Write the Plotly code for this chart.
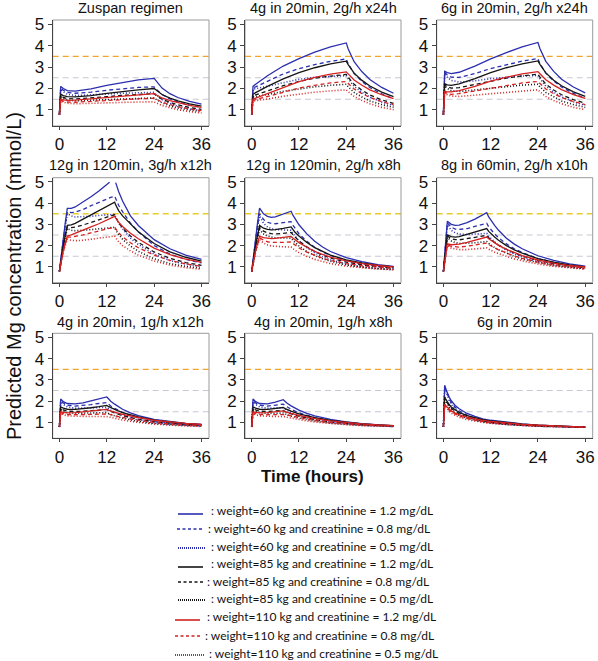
import plotly.graph_objects as go
from plotly.subplots import make_subplots

# ---------------- data ----------------
panel_titles = ["Zuspan regimen", "4g in 20min, 2g/h x24h", "6g in 20min, 2g/h x24h",
                "12g in 120min, 3g/h x12h", "12g in 120min, 2g/h x8h", "8g in 60min, 2g/h x10h",
                "4g in 20min, 1g/h x12h", "4g in 20min, 1g/h x8h", "6g in 20min"]

series_labels = [": weight=60 kg and creatinine = 1.2 mg/dL",
                 ": weight=60 kg and creatinine = 0.8 mg/dL",
                 ": weight=60 kg and creatinine = 0.5 mg/dL",
                 ": weight=85 kg and creatinine = 1.2 mg/dL",
                 ": weight=85 kg and creatinine = 0.8 mg/dL",
                 ": weight=85 kg and creatinine = 0.5 mg/dL",
                 ": weight=110 kg and creatinine = 1.2 mg/dL",
                 ": weight=110 kg and creatinine = 0.8 mg/dL",
                 ": weight=110 kg and creatinine = 0.5 mg/dL"]

x_ticks = [0, 12, 24, 36]
y_ticks = [1, 2, 3, 4, 5]
ref_levels = [1.5, 2.5, 3.5]
y_limit = 5.0  # values above the plotted limit are dropped (gap in the curve)

# order of curves in each panel: 60/1.2, 60/0.8, 60/0.5, 85/1.2, 85/0.8, 85/0.5, 110/1.2, 110/0.8, 110/0.5
t_p1 = [0, 0.33, 1, 2, 4, 8, 12, 16, 20, 24, 24.5, 26, 28, 30, 33, 36]
c_p1 = [
    [0.78, 2.10, 2.00, 1.90, 1.88, 1.98, 2.15, 2.29, 2.40, 2.47, 2.36, 2.02, 1.76, 1.58, 1.40, 1.27],
    [0.78, 2.03, 1.92, 1.82, 1.78, 1.83, 1.92, 2.00, 2.05, 2.08, 1.97, 1.72, 1.52, 1.37, 1.22, 1.12],
    [0.78, 1.98, 1.85, 1.73, 1.67, 1.69, 1.74, 1.78, 1.80, 1.82, 1.71, 1.48, 1.30, 1.17, 1.05, 0.97],
    [0.78, 1.73, 1.67, 1.62, 1.61, 1.67, 1.77, 1.86, 1.94, 2.00, 1.93, 1.72, 1.55, 1.42, 1.28, 1.18],
    [0.78, 1.66, 1.59, 1.53, 1.51, 1.55, 1.62, 1.68, 1.72, 1.76, 1.68, 1.50, 1.36, 1.24, 1.11, 1.03],
    [0.78, 1.61, 1.53, 1.46, 1.43, 1.45, 1.49, 1.52, 1.54, 1.56, 1.49, 1.33, 1.19, 1.09, 0.99, 0.92],
    [0.78, 1.50, 1.47, 1.45, 1.46, 1.52, 1.59, 1.65, 1.71, 1.76, 1.71, 1.56, 1.43, 1.33, 1.21, 1.12],
    [0.78, 1.46, 1.41, 1.37, 1.36, 1.39, 1.44, 1.48, 1.52, 1.55, 1.50, 1.37, 1.25, 1.15, 1.05, 0.97],
    [0.78, 1.42, 1.36, 1.31, 1.29, 1.30, 1.33, 1.35, 1.37, 1.38, 1.33, 1.21, 1.10, 1.01, 0.92, 0.86],
]

t_p2 = [0, 0.33, 1, 2, 4, 8, 12, 16, 20, 24, 24.5, 26, 28, 30, 33, 36]
c_p2 = [
    [0.78, 2.10, 2.20, 2.34, 2.60, 3.05, 3.40, 3.70, 3.95, 4.13, 3.85, 3.25, 2.78, 2.42, 2.05, 1.78],
    [0.78, 2.03, 2.08, 2.17, 2.35, 2.68, 2.93, 3.12, 3.27, 3.38, 3.15, 2.70, 2.33, 2.05, 1.75, 1.52],
    [0.78, 1.98, 1.99, 2.03, 2.12, 2.30, 2.43, 2.52, 2.57, 2.60, 2.45, 2.10, 1.82, 1.60, 1.37, 1.20],
    [0.78, 1.73, 1.81, 1.91, 2.10, 2.45, 2.74, 2.97, 3.15, 3.28, 3.12, 2.72, 2.38, 2.12, 1.83, 1.62],
    [0.78, 1.66, 1.70, 1.76, 1.89, 2.13, 2.33, 2.48, 2.58, 2.66, 2.52, 2.20, 1.92, 1.70, 1.47, 1.31],
    [0.78, 1.61, 1.62, 1.65, 1.72, 1.87, 1.99, 2.08, 2.15, 2.20, 2.08, 1.82, 1.60, 1.42, 1.25, 1.12],
    [0.78, 1.50, 1.55, 1.62, 1.78, 2.07, 2.32, 2.52, 2.67, 2.78, 2.68, 2.40, 2.15, 1.94, 1.71, 1.53],
    [0.78, 1.46, 1.48, 1.53, 1.63, 1.84, 2.02, 2.15, 2.26, 2.33, 2.23, 1.98, 1.76, 1.58, 1.39, 1.25],
    [0.78, 1.42, 1.43, 1.45, 1.51, 1.64, 1.75, 1.83, 1.89, 1.94, 1.85, 1.63, 1.44, 1.29, 1.12, 1.01],
]

t_p3 = [0, 0.33, 1, 2, 4, 8, 12, 16, 20, 24, 24.5, 26, 28, 30, 33, 36]
c_p3 = [
    [0.78, 2.80, 2.74, 2.70, 2.76, 3.05, 3.38, 3.68, 3.94, 4.15, 3.87, 3.27, 2.80, 2.43, 2.07, 1.80],
    [0.78, 2.75, 2.63, 2.53, 2.52, 2.70, 2.93, 3.12, 3.28, 3.40, 3.17, 2.72, 2.35, 2.07, 1.77, 1.54],
    [0.78, 2.70, 2.53, 2.38, 2.30, 2.36, 2.46, 2.53, 2.58, 2.61, 2.46, 2.11, 1.83, 1.61, 1.38, 1.21],
    [0.78, 2.22, 2.17, 2.15, 2.22, 2.46, 2.74, 2.97, 3.15, 3.29, 3.13, 2.73, 2.39, 2.13, 1.84, 1.63],
    [0.78, 2.17, 2.08, 2.02, 2.04, 2.18, 2.35, 2.49, 2.59, 2.67, 2.53, 2.21, 1.93, 1.71, 1.48, 1.32],
    [0.78, 2.12, 2.00, 1.90, 1.86, 1.93, 2.03, 2.10, 2.16, 2.20, 2.08, 1.82, 1.60, 1.42, 1.25, 1.12],
    [0.78, 1.86, 1.84, 1.84, 1.90, 2.10, 2.34, 2.53, 2.68, 2.79, 2.69, 2.41, 2.16, 1.95, 1.72, 1.54],
    [0.78, 1.83, 1.76, 1.73, 1.76, 1.88, 2.03, 2.15, 2.26, 2.33, 2.23, 1.98, 1.76, 1.58, 1.39, 1.25],
    [0.78, 1.79, 1.71, 1.65, 1.63, 1.69, 1.77, 1.84, 1.90, 1.94, 1.85, 1.63, 1.44, 1.29, 1.12, 1.01],
]

t_p4 = [0, 0.5, 1, 1.5, 2, 3, 4, 6, 8, 10, 12, 12.7, 13, 14, 14.25, 14.5, 15, 16, 18, 20, 24, 28, 32, 36]
c_p4 = [
    [0.78, 1.65, 2.40, 3.10, 3.75, 3.75, 3.82, 4.05, 4.30, 4.57, 4.88, 4.99, 5.05, 5.30, 4.97, 4.80, 4.55, 4.10, 3.40, 2.95, 2.28, 1.85, 1.55, 1.35],
    [0.78, 1.60, 2.35, 3.00, 3.60, 3.55, 3.58, 3.70, 3.88, 4.05, 4.20, 4.25, 4.27, 4.33, 4.20, 4.10, 3.90, 3.60, 3.05, 2.65, 2.00, 1.60, 1.35, 1.18],
    [0.78, 1.58, 2.30, 2.95, 3.50, 3.40, 3.35, 3.35, 3.38, 3.42, 3.45, 3.46, 3.46, 3.47, 3.35, 3.25, 3.05, 2.80, 2.35, 2.05, 1.60, 1.30, 1.12, 1.00],
    [0.78, 1.45, 2.00, 2.50, 2.95, 2.98, 3.05, 3.25, 3.45, 3.65, 3.85, 3.92, 3.95, 4.05, 3.92, 3.82, 3.65, 3.40, 3.00, 2.65, 2.10, 1.70, 1.45, 1.27],
    [0.78, 1.43, 1.97, 2.45, 2.88, 2.85, 2.87, 2.97, 3.10, 3.22, 3.35, 3.38, 3.40, 3.45, 3.33, 3.25, 3.08, 2.82, 2.45, 2.15, 1.70, 1.40, 1.20, 1.07],
    [0.78, 1.42, 1.95, 2.40, 2.80, 2.72, 2.70, 2.72, 2.76, 2.80, 2.83, 2.84, 2.84, 2.86, 2.75, 2.67, 2.52, 2.30, 1.98, 1.73, 1.38, 1.15, 1.02, 0.93],
    [0.78, 1.35, 1.77, 2.12, 2.45, 2.50, 2.57, 2.72, 2.88, 3.03, 3.20, 3.25, 3.28, 3.38, 3.30, 3.23, 3.10, 2.90, 2.58, 2.32, 1.88, 1.57, 1.36, 1.21],
    [0.78, 1.34, 1.75, 2.08, 2.40, 2.40, 2.43, 2.50, 2.60, 2.70, 2.80, 2.82, 2.83, 2.87, 2.80, 2.73, 2.60, 2.42, 2.13, 1.90, 1.55, 1.30, 1.14, 1.02],
    [0.78, 1.33, 1.72, 2.02, 2.30, 2.25, 2.23, 2.25, 2.30, 2.35, 2.40, 2.41, 2.42, 2.45, 2.37, 2.30, 2.18, 2.00, 1.75, 1.55, 1.27, 1.08, 0.96, 0.88],
]

t_p5 = [0, 0.5, 1, 1.5, 2, 3, 4, 5, 6, 8, 10, 10.5, 11, 12, 14, 16, 18, 20, 24, 28, 32, 36]
c_p5 = [
    [0.78, 1.65, 2.40, 3.10, 3.77, 3.50, 3.38, 3.33, 3.35, 3.47, 3.62, 3.42, 3.25, 2.98, 2.55, 2.20, 1.93, 1.72, 1.43, 1.24, 1.10, 1.02],
    [0.78, 1.60, 2.33, 2.95, 3.50, 3.23, 3.10, 3.04, 3.03, 3.07, 3.13, 2.95, 2.80, 2.56, 2.20, 1.92, 1.70, 1.53, 1.29, 1.13, 1.02, 0.95],
    [0.78, 1.58, 2.30, 2.90, 3.40, 3.05, 2.88, 2.80, 2.76, 2.73, 2.72, 2.56, 2.43, 2.22, 1.90, 1.66, 1.47, 1.33, 1.14, 1.01, 0.93, 0.88],
    [0.78, 1.45, 2.00, 2.50, 2.95, 2.82, 2.76, 2.74, 2.75, 2.81, 2.88, 2.75, 2.63, 2.45, 2.15, 1.90, 1.71, 1.55, 1.33, 1.18, 1.07, 1.00],
    [0.78, 1.43, 1.97, 2.44, 2.85, 2.68, 2.60, 2.56, 2.55, 2.58, 2.62, 2.50, 2.39, 2.22, 1.94, 1.72, 1.55, 1.41, 1.22, 1.09, 1.00, 0.94],
    [0.78, 1.42, 1.94, 2.38, 2.75, 2.55, 2.45, 2.40, 2.37, 2.36, 2.35, 2.24, 2.14, 1.98, 1.72, 1.53, 1.38, 1.26, 1.09, 0.98, 0.91, 0.87],
    [0.78, 1.35, 1.77, 2.12, 2.45, 2.38, 2.34, 2.33, 2.34, 2.38, 2.43, 2.35, 2.27, 2.14, 1.92, 1.73, 1.58, 1.46, 1.28, 1.15, 1.06, 1.00],
    [0.78, 1.34, 1.74, 2.07, 2.37, 2.25, 2.18, 2.15, 2.14, 2.15, 2.17, 2.09, 2.01, 1.89, 1.69, 1.53, 1.40, 1.30, 1.15, 1.05, 0.98, 0.93],
    [0.78, 1.33, 1.71, 2.02, 2.28, 2.12, 2.03, 1.98, 1.96, 1.94, 1.93, 1.85, 1.78, 1.67, 1.49, 1.35, 1.24, 1.15, 1.03, 0.95, 0.89, 0.86],
]

t_p6 = [0, 0.5, 1, 2, 3, 4, 6, 8, 10, 11, 11.5, 12, 13, 14, 16, 18, 20, 24, 28, 32, 36]
c_p6 = [
    [0.78, 2.10, 3.15, 3.00, 2.95, 2.96, 3.08, 3.25, 3.45, 3.55, 3.35, 3.20, 2.95, 2.72, 2.35, 2.07, 1.85, 1.52, 1.30, 1.14, 1.03],
    [0.78, 2.07, 3.07, 2.87, 2.78, 2.76, 2.80, 2.90, 3.00, 3.05, 2.88, 2.76, 2.55, 2.37, 2.08, 1.85, 1.67, 1.39, 1.21, 1.07, 0.97],
    [0.78, 2.03, 2.98, 2.72, 2.60, 2.54, 2.52, 2.54, 2.57, 2.58, 2.44, 2.34, 2.17, 2.02, 1.78, 1.60, 1.46, 1.24, 1.09, 0.98, 0.91],
    [0.78, 1.70, 2.50, 2.42, 2.40, 2.42, 2.52, 2.62, 2.74, 2.80, 2.67, 2.57, 2.40, 2.25, 2.00, 1.80, 1.64, 1.39, 1.22, 1.09, 1.00],
    [0.78, 1.68, 2.45, 2.33, 2.28, 2.27, 2.32, 2.38, 2.45, 2.48, 2.37, 2.29, 2.15, 2.02, 1.82, 1.65, 1.51, 1.29, 1.15, 1.03, 0.96],
    [0.78, 1.66, 2.38, 2.22, 2.14, 2.10, 2.10, 2.13, 2.17, 2.19, 2.10, 2.03, 1.91, 1.80, 1.63, 1.49, 1.37, 1.19, 1.06, 0.97, 0.91],
    [0.78, 1.48, 2.08, 2.04, 2.04, 2.07, 2.15, 2.25, 2.35, 2.40, 2.32, 2.25, 2.12, 2.01, 1.82, 1.66, 1.53, 1.32, 1.17, 1.06, 0.99],
    [0.78, 1.47, 2.04, 1.96, 1.93, 1.93, 1.97, 2.03, 2.09, 2.12, 2.05, 1.99, 1.89, 1.80, 1.64, 1.51, 1.40, 1.22, 1.09, 1.00, 0.94],
    [0.78, 1.46, 2.00, 1.88, 1.83, 1.81, 1.81, 1.84, 1.87, 1.89, 1.83, 1.78, 1.69, 1.62, 1.48, 1.37, 1.28, 1.13, 1.02, 0.94, 0.89],
]

t_p7 = [0, 0.33, 1, 2, 4, 6, 8, 10, 12, 12.5, 13, 14, 16, 18, 20, 24, 28, 32, 36]
c_p7 = [
    [0.78, 2.10, 1.98, 1.89, 1.87, 1.92, 2.01, 2.10, 2.20, 2.10, 2.00, 1.86, 1.62, 1.45, 1.32, 1.14, 1.03, 0.95, 0.90],
    [0.78, 2.03, 1.91, 1.81, 1.77, 1.79, 1.84, 1.89, 1.93, 1.85, 1.77, 1.66, 1.47, 1.33, 1.22, 1.07, 0.97, 0.91, 0.87],
    [0.78, 1.98, 1.85, 1.73, 1.67, 1.66, 1.68, 1.70, 1.71, 1.64, 1.57, 1.48, 1.33, 1.21, 1.12, 0.99, 0.91, 0.86, 0.83],
    [0.78, 1.73, 1.67, 1.62, 1.61, 1.64, 1.69, 1.74, 1.80, 1.74, 1.69, 1.61, 1.46, 1.35, 1.26, 1.11, 1.01, 0.94, 0.89],
    [0.78, 1.66, 1.59, 1.53, 1.51, 1.52, 1.55, 1.58, 1.61, 1.56, 1.51, 1.44, 1.32, 1.23, 1.15, 1.03, 0.95, 0.90, 0.86],
    [0.78, 1.61, 1.53, 1.46, 1.43, 1.43, 1.44, 1.45, 1.46, 1.41, 1.37, 1.31, 1.20, 1.12, 1.05, 0.95, 0.89, 0.85, 0.82],
    [0.78, 1.50, 1.47, 1.45, 1.46, 1.49, 1.53, 1.57, 1.61, 1.57, 1.53, 1.48, 1.38, 1.30, 1.23, 1.10, 1.01, 0.95, 0.90],
    [0.78, 1.46, 1.41, 1.37, 1.36, 1.37, 1.39, 1.41, 1.43, 1.40, 1.36, 1.31, 1.23, 1.16, 1.10, 1.00, 0.93, 0.89, 0.85],
    [0.78, 1.42, 1.36, 1.31, 1.29, 1.29, 1.29, 1.30, 1.30, 1.27, 1.24, 1.19, 1.11, 1.05, 1.00, 0.92, 0.87, 0.84, 0.81],
]

t_p8 = [0, 0.33, 1, 2, 4, 6, 8, 8.5, 9, 10, 12, 14, 16, 20, 24, 28, 32, 36]
c_p8 = [
    [0.78, 2.10, 1.98, 1.89, 1.87, 1.95, 2.07, 1.98, 1.90, 1.78, 1.58, 1.43, 1.31, 1.14, 1.02, 0.94, 0.88, 0.84],
    [0.78, 2.03, 1.91, 1.81, 1.77, 1.80, 1.86, 1.79, 1.72, 1.62, 1.45, 1.32, 1.22, 1.07, 0.97, 0.90, 0.86, 0.83],
    [0.78, 1.98, 1.85, 1.73, 1.67, 1.67, 1.69, 1.62, 1.56, 1.47, 1.32, 1.21, 1.12, 0.99, 0.91, 0.86, 0.83, 0.81],
    [0.78, 1.73, 1.67, 1.62, 1.61, 1.65, 1.70, 1.65, 1.60, 1.53, 1.40, 1.30, 1.22, 1.09, 1.00, 0.93, 0.88, 0.85],
    [0.78, 1.66, 1.59, 1.53, 1.51, 1.53, 1.56, 1.51, 1.47, 1.40, 1.29, 1.20, 1.13, 1.02, 0.94, 0.89, 0.85, 0.83],
    [0.78, 1.61, 1.53, 1.46, 1.43, 1.43, 1.44, 1.40, 1.36, 1.30, 1.20, 1.12, 1.06, 0.96, 0.90, 0.86, 0.83, 0.81],
    [0.78, 1.50, 1.47, 1.45, 1.46, 1.50, 1.54, 1.50, 1.47, 1.42, 1.33, 1.25, 1.18, 1.07, 0.99, 0.93, 0.88, 0.85],
    [0.78, 1.46, 1.41, 1.37, 1.36, 1.38, 1.40, 1.37, 1.34, 1.30, 1.22, 1.15, 1.09, 1.00, 0.93, 0.88, 0.85, 0.83],
    [0.78, 1.42, 1.36, 1.31, 1.29, 1.29, 1.30, 1.27, 1.24, 1.20, 1.13, 1.07, 1.02, 0.95, 0.89, 0.85, 0.83, 0.81],
]

t_p9 = [0, 0.33, 0.67, 1, 1.5, 2, 3, 4, 6, 8, 10, 12, 16, 20, 24, 28, 32, 36]
c_p9 = [
    [0.78, 2.75, 2.55, 2.38, 2.18, 2.02, 1.80, 1.64, 1.42, 1.28, 1.17, 1.10, 1.00, 0.93, 0.87, 0.83, 0.80, 0.78],
    [0.78, 2.72, 2.50, 2.32, 2.10, 1.94, 1.71, 1.55, 1.34, 1.20, 1.10, 1.03, 0.94, 0.88, 0.84, 0.81, 0.79, 0.77],
    [0.78, 2.68, 2.45, 2.25, 2.02, 1.85, 1.62, 1.46, 1.26, 1.13, 1.04, 0.98, 0.90, 0.85, 0.82, 0.80, 0.78, 0.77],
    [0.78, 2.20, 2.07, 1.96, 1.83, 1.73, 1.58, 1.47, 1.32, 1.21, 1.13, 1.07, 0.98, 0.92, 0.87, 0.83, 0.80, 0.78],
    [0.78, 2.17, 2.03, 1.91, 1.77, 1.66, 1.51, 1.40, 1.25, 1.15, 1.07, 1.01, 0.93, 0.88, 0.84, 0.81, 0.79, 0.77],
    [0.78, 2.14, 1.99, 1.86, 1.71, 1.60, 1.44, 1.33, 1.19, 1.09, 1.02, 0.97, 0.90, 0.85, 0.82, 0.80, 0.78, 0.77],
    [0.78, 1.86, 1.77, 1.70, 1.61, 1.54, 1.44, 1.36, 1.25, 1.17, 1.10, 1.05, 0.97, 0.91, 0.87, 0.83, 0.80, 0.78],
    [0.78, 1.84, 1.74, 1.66, 1.56, 1.49, 1.38, 1.30, 1.19, 1.11, 1.05, 1.00, 0.93, 0.88, 0.84, 0.81, 0.79, 0.77],
    [0.78, 1.82, 1.71, 1.62, 1.51, 1.43, 1.32, 1.24, 1.13, 1.06, 1.00, 0.96, 0.90, 0.85, 0.82, 0.80, 0.78, 0.77],
]

panel_times = [t_p1, t_p2, t_p3, t_p4, t_p5, t_p6, t_p7, t_p8, t_p9]
panel_concs = [c_p1, c_p2, c_p3, c_p4, c_p5, c_p6, c_p7, c_p8, c_p9]

# ---------------- styling ----------------
BLUE, BLACK, RED = "#2b2fae", "#151515", "#d42222"
series_colors = [BLUE, BLUE, BLUE, BLACK, BLACK, BLACK, RED, RED, RED]
series_dash = ["solid", "4px,3px", "1px,2px"] * 3
series_width = [1.3, 1.3, 1.6] * 3
ref_colors_by_row = ["#f2a42c", "#e6cc2c", "#f2a42c"]
GREY_REF = "#c8c8d2"
FONT = "Liberation Sans, Arial, sans-serif"

W, H = 598, 661


def px(xp):
    return xp / W


def py(yp):
    return 1 - yp / H


col_px = [(52.7, 209.0), (245.0, 401.0), (436.7, 592.7)]
row_px = [(20.0, 126.0), (177.7, 282.7), (333.3, 438.3)]
title_y_px = [8.0, 165.0, 322.0]

fig = make_subplots(rows=3, cols=3)

for p in range(9):
    r, c = divmod(p, 3)
    ax = "" if p == 0 else str(p + 1)
    for s in range(9):
        yv = [v if v <= y_limit else None for v in panel_concs[p][s]]
        fig.add_trace(go.Scatter(
            x=panel_times[p], y=yv, mode="lines", showlegend=False,
            line=dict(color=series_colors[s], dash=series_dash[s], width=series_width[s]),
            connectgaps=False, hoverinfo="skip"), row=r + 1, col=c + 1)
    x0, x1 = col_px[c]
    y0, y1 = row_px[r]
    fig.layout["xaxis" + ax].domain = [px(x0), px(x1)]
    fig.layout["yaxis" + ax].domain = [py(y1), py(y0)]
    for lv in ref_levels:
        col = ref_colors_by_row[r] if lv == 3.5 else GREY_REF
        fig.add_shape(type="line", xref="x" + ax + " domain", yref="y" + ax,
                      x0=0, x1=1, y0=lv, y1=lv, layer="below",
                      line=dict(color=col, width=1.4 if lv == 3.5 else 1.1, dash="6px,4px"))
    fig.add_shape(type="rect", xref="x" + ax + " domain", yref="y" + ax + " domain",
                  x0=0, x1=1, y0=0, y1=1, layer="below",
                  line=dict(color="#9a9a9a", width=1))
    fig.add_annotation(text=panel_titles[p], xref="paper", yref="paper",
                       x=px((x0 + x1) / 2), y=py(title_y_px[r]),
                       xanchor="center", yanchor="middle", showarrow=False,
                       font=dict(family=FONT, size=14.5, color="#111"))

fig.update_xaxes(range=[-1.7, 37.9], tickvals=x_ticks, showgrid=False, zeroline=False,
                 showline=True, linecolor="#444", linewidth=1, ticks="outside", ticklen=3,
                 tickcolor="#444", tickfont=dict(family=FONT, size=17, color="#111"),
                 fixedrange=True)
fig.update_yaxes(range=[0.25, 5.2], tickvals=y_ticks, showgrid=False, zeroline=False,
                 showline=True, linecolor="#444", linewidth=1, ticks="outside", ticklen=4,
                 tickcolor="#444", tickfont=dict(family=FONT, size=17, color="#111"),
                 fixedrange=True)

fig.add_annotation(text="Predicted Mg concentration (mmol/L)", xref="paper", yref="paper",
                   x=px(14), y=py(276), textangle=-90, showarrow=False,
                   xanchor="center", yanchor="middle",
                   font=dict(family=FONT, size=20, color="#111"))
fig.add_annotation(text="<b>Time (hours)</b>", xref="paper", yref="paper",
                   x=px(312), y=py(477), showarrow=False,
                   xanchor="center", yanchor="middle",
                   font=dict(family=FONT, size=17, color="#111"))

leg_text_y = [510, 528, 546, 563, 581, 598, 616, 635, 653]
leg_text_x = [209, 206, 209, 209, 205, 209, 205, 203, 207]
leg_line_x = [(178, 203), (177, 203), (178, 206), (178, 203), (178, 203), (178, 206),
              (175, 200), (175, 200), (175, 205)]
leg_line_dy = [4, 1, 2, 4, 1, 2, 4, 1, 2]
leg_dash = ["solid", "3px,2.5px", "1px,1px"] * 3
for s in range(9):
    ly = leg_text_y[s] + leg_line_dy[s]
    fig.add_shape(type="line", xref="paper", yref="paper",
                  x0=px(leg_line_x[s][0]), x1=px(leg_line_x[s][1]),
                  y0=py(ly), y1=py(ly),
                  line=dict(color=series_colors[s], dash=leg_dash[s],
                            width=1.6 if s % 3 != 2 else 2))
    fig.add_annotation(text=series_labels[s], xref="paper", yref="paper",
                       x=px(leg_text_x[s]), y=py(leg_text_y[s]),
                       xanchor="left", yanchor="middle", showarrow=False,
                       font=dict(family="Lato, sans-serif", size=12, color="#111"))

fig.update_layout(width=W, height=H,
                  margin=dict(l=0, r=0, t=0, b=0, autoexpand=False),
                  paper_bgcolor="white", plot_bgcolor="white", showlegend=False,
                  hovermode=False)

# remove the default 8px page margin so the 598x661 figure fills the window exactly
fig.write_html("out.html", config={"displayModeBar": False, "staticPlot": True},
               post_script="document.body.style.margin='0px';document.body.style.overflow='hidden';")
